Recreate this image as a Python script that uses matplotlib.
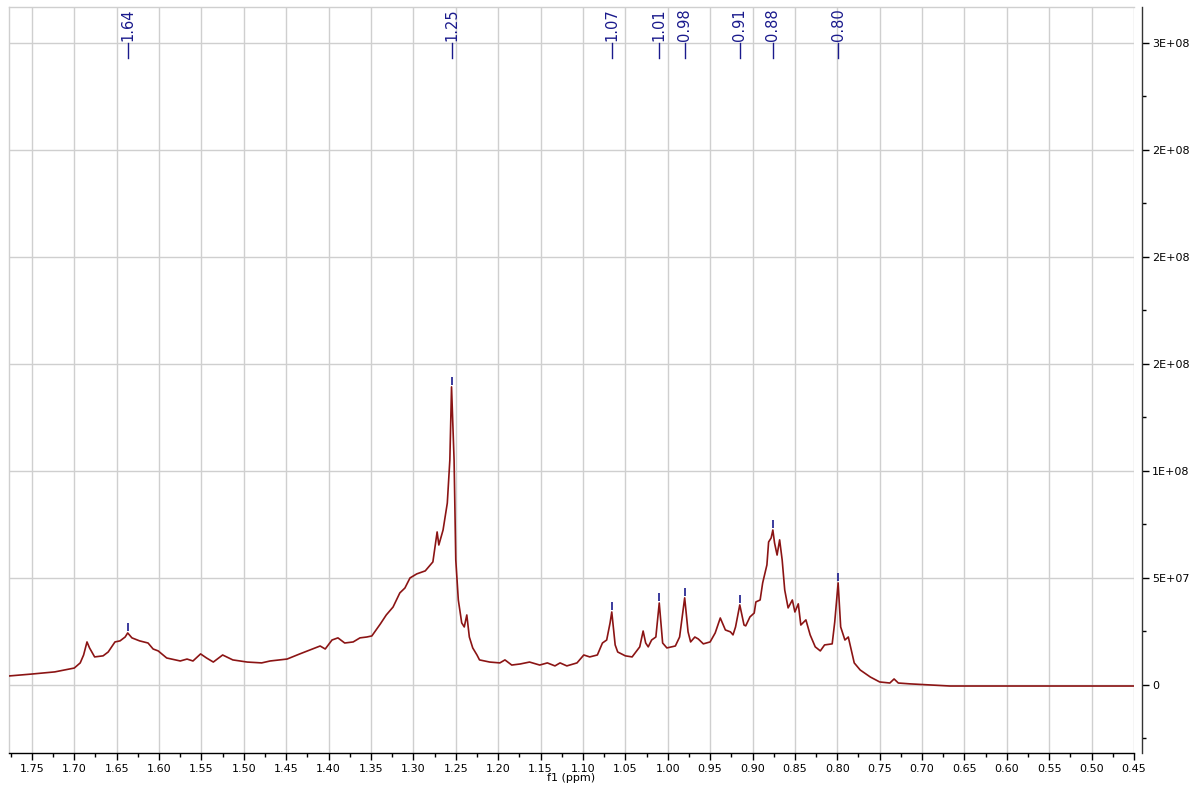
import numpy as np
import matplotlib
matplotlib.use("Agg")
import matplotlib.pyplot as plt
from matplotlib.ticker import MultipleLocator, FixedLocator, FixedFormatter
import matplotlib.transforms as mtransforms

# ---- data ----
ppm = [1.777, 1.750, 1.723, 1.700, 1.693, 1.689, 1.685, 1.682, 1.676, 1.666,
       1.660, 1.652, 1.646, 1.640, 1.637, 1.632, 1.623, 1.613, 1.607, 1.601,
       1.591, 1.575, 1.567, 1.560, 1.551, 1.544, 1.536, 1.525, 1.513, 1.496,
       1.479, 1.469, 1.449, 1.434, 1.419, 1.410, 1.404, 1.396, 1.389, 1.381,
       1.371, 1.363, 1.355, 1.349, 1.339, 1.332, 1.324, 1.316, 1.310, 1.304,
       1.296, 1.286, 1.277, 1.272, 1.270, 1.265, 1.260, 1.257, 1.255, 1.252,
       1.250, 1.247, 1.243, 1.240, 1.237, 1.234, 1.230, 1.225, 1.222, 1.210,
       1.198, 1.192, 1.184, 1.174, 1.163, 1.151, 1.142, 1.133, 1.127, 1.119,
       1.107, 1.099, 1.092, 1.083, 1.077, 1.072, 1.068, 1.066, 1.062, 1.059,
       1.050, 1.042, 1.033, 1.029, 1.026, 1.023, 1.019, 1.014, 1.010, 1.008,
       1.006, 1.001, 0.991, 0.986, 0.980, 0.976, 0.973, 0.968, 0.964, 0.958,
       0.950, 0.944, 0.938, 0.932, 0.926, 0.923, 0.920, 0.915, 0.910, 0.908,
       0.903, 0.898, 0.896, 0.891, 0.888, 0.883, 0.881, 0.878, 0.876, 0.874,
       0.871, 0.868, 0.865, 0.862, 0.858, 0.853, 0.850, 0.846, 0.843, 0.837,
       0.832, 0.826, 0.820, 0.815, 0.806, 0.803, 0.799, 0.796, 0.791, 0.787,
       0.784, 0.780, 0.773, 0.761, 0.750, 0.738, 0.733, 0.728, 0.714, 0.691,
       0.667, 0.608, 0.537, 0.450]

intensity_M = [4.2, 5.1, 6.1, 7.9, 10.3, 14.0, 20.1, 17.3, 13.1, 13.6,
               15.4, 20.1, 20.6, 22.4, 24.3, 22.0, 20.6, 19.6, 16.8, 15.9,
               12.6, 11.2, 12.1, 11.2, 14.5, 12.6, 10.7, 14.0, 11.7, 10.7,
               10.3, 11.2, 12.1, 14.5, 16.8, 18.2, 16.8, 21.0, 22.0, 19.6,
               20.1, 22.0, 22.4, 22.9, 28.5, 32.7, 36.4, 43.0, 45.3, 50.0,
               51.9, 53.3, 57.5, 71.5, 65.4, 72.4, 85.0, 105.1, 139.3, 105.1,
               58.4, 39.7, 29.0, 27.1, 32.7, 22.4, 17.3, 14.0, 11.7, 10.7,
               10.3, 11.7, 9.3, 9.8, 10.7, 9.3, 10.3, 8.9, 10.3, 8.9,
               10.3, 14.0, 13.1, 14.0, 19.6, 21.0, 29.0, 34.1, 18.7, 15.4,
               13.6, 13.1, 17.8, 25.2, 19.6, 17.8, 21.0, 22.4, 38.3, 29.0,
               19.6, 17.3, 18.2, 22.4, 40.7, 24.8, 20.1, 22.4, 21.5, 19.2,
               20.1, 24.3, 31.3, 25.7, 24.8, 23.4, 27.1, 37.4, 28.0, 27.6,
               31.8, 33.6, 38.8, 39.7, 47.7, 56.1, 66.8, 68.7, 72.4, 66.4,
               60.7, 67.8, 58.4, 44.4, 36.0, 39.7, 34.1, 37.9, 28.0, 30.4,
               23.4, 17.8, 15.9, 18.7, 19.2, 29.4, 47.7, 27.1, 21.0, 22.4,
               17.3, 10.3, 7.0, 3.7, 1.4, 0.9, 2.8, 0.9, 0.5, 0.0,
               -0.5, -0.5, -0.5, -0.5]

peak_labels = ['1.64', '1.25', '1.07', '1.01', '0.98', '0.91', '0.88', '0.80']
peak_ppm = [1.637, 1.255, 1.066, 1.010, 0.980, 0.915, 0.876, 0.799]

y_tick_values = [0, 5e7, 1e8, 1.5e8, 2e8, 2.5e8, 3e8]
y_tick_labels = ['0', '5E+07', '1E+08', '2E+08', '2E+08', '2E+08', '3E+08']

x_major = 0.05

# ---- figure ----
plt.rcParams['font.family'] = ['DejaVu Sans']
W, H = 1194, 789
fig = plt.figure(figsize=(W / 100, H / 100), dpi=100)
ax = fig.add_axes([9 / W, 36 / H, 1125 / W, 746 / H])

x = np.array(ppm)
y = np.array(intensity_M) * 1e6

ax.plot(x, y, color='#8b1414', lw=1.2, zorder=3)

ax.set_xlim(1.777, 0.45)
ax.set_ylim(-3.18e7, 3.168e8)

# grid
ax.xaxis.set_major_locator(MultipleLocator(x_major))
ax.xaxis.set_minor_locator(MultipleLocator(x_major / 2))
ax.xaxis.set_major_formatter(matplotlib.ticker.FuncFormatter(lambda v, p: f"{v:.2f}"))
ax.yaxis.set_major_locator(FixedLocator(y_tick_values))
ax.yaxis.set_major_formatter(FixedFormatter(y_tick_labels))
ax.yaxis.set_minor_locator(MultipleLocator(2.5e7))
ax.grid(True, which='major', color='#cfcfcf', lw=1.0, zorder=0)

# spines
for s in ['top', 'left']:
    ax.spines[s].set_color('#cfcfcf')
    ax.spines[s].set_linewidth(1.0)
ax.spines['bottom'].set_color('black')
ax.spines['bottom'].set_linewidth(1.0)
ax.spines['right'].set_position(('outward', 6))
ax.spines['right'].set_color('#333333')
ax.spines['right'].set_linewidth(1.0)

ax.yaxis.tick_right()
ax.tick_params(axis='y', which='major', direction='out', length=5, width=1,
               labelsize=8, pad=2, colors='black')
ax.tick_params(axis='y', which='minor', direction='out', length=3, width=1)
ax.tick_params(axis='x', which='major', direction='out', length=5, width=1,
               labelsize=8, pad=3)
ax.tick_params(axis='x', which='minor', direction='out', length=3, width=1)
ax.set_xlabel('f1 (ppm)', fontsize=8, labelpad=-1)

# peak marks
navy = '#1a1a8c'
xr = x[::-1]
yr = y[::-1]
peak_int = np.interp(peak_ppm, xr, yr)
ax.vlines(peak_ppm, peak_int + 1.0e6, peak_int + 4.5e6, color=navy, lw=1.2, zorder=4)

trans = mtransforms.blended_transform_factory(ax.transData, ax.transAxes)
for p, lab in zip(peak_ppm, peak_labels):
    ax.plot([p, p], [0.9316, 0.9517], transform=trans, color=navy, lw=1.0,
            clip_on=False, zorder=5)
    ax.text(p, 0.9545, lab, transform=trans, rotation=90, ha='center',
            va='bottom', fontsize=10.5, color=navy, zorder=5)

fig.savefig('out.png', dpi=100)
